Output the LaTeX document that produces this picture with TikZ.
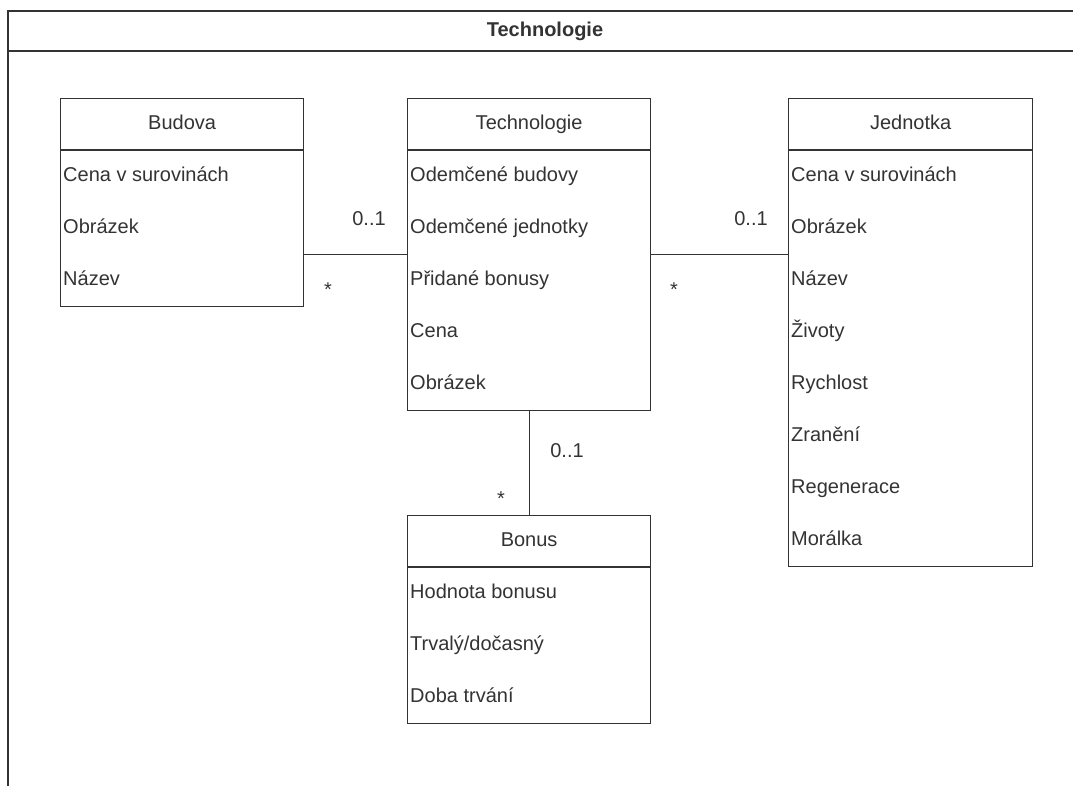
\documentclass[tikz,border=0pt]{standalone}
\usepackage{fontspec}
\setmainfont{Liberation Sans}
\usetikzlibrary{calc}
\definecolor{linec}{HTML}{333333}
\definecolor{txtc}{HTML}{333333}
\tikzset{
  cls/.style={draw=linec, line width=1.2pt, fill=white, anchor=north west,
    inner sep=0pt, minimum width=243pt},
  ttl/.style={font=\fontsize{20}{24}\selectfont, text=txtc, inner sep=0pt,
    text height=14.5pt, text depth=4pt},
  attr/.style={ttl, anchor=west},
  mult/.style={ttl},
  sep/.style={draw=linec, line width=1.2pt},
  assoc/.style={draw=linec, line width=1.2pt},
  frame/.style={draw=linec, line width=1.2pt}
}
\begin{document}
\begin{tikzpicture}[x=1pt,y=-1pt]
\useasboundingbox (0,0) rectangle (1073,785);
\clip (0,0) rectangle (1073,785);

% outer package frame with its title bar
\coordinate (fr-tl) at (8,11);
\coordinate (fr-tr) at (1090,11);
\coordinate (fr-bl) at (8,800);
\coordinate (fr-hl) at (8,51);
\coordinate (fr-hr) at (1090,51);
\draw[frame] (fr-tr) -- (fr-tl) -- (fr-bl);
\draw[frame] (fr-hl) -- (fr-hr);
\node[ttl, font=\fontsize{20}{24}\selectfont\bfseries] (frame-title) at (545,31) {Technologie};

% class Budova
\node[cls, minimum height=208pt] (budova) at (60,98) {};
\draw[sep] ($(budova.north west)+(0,52)$) -- ($(budova.north east)+(0,52)$);
\node[ttl] (budova-t) at ($(budova.north)+(0,26)$) {Budova};
\foreach \t [count=\i] in {Cena v surovinách, Obrázek, Název}
  \node[attr] (budova-\i) at ($(budova.north west)+(3,26+52*\i)$) {\t};

% class Technologie
\node[cls, minimum height=312pt] (tech) at (407,98) {};
\draw[sep] ($(tech.north west)+(0,52)$) -- ($(tech.north east)+(0,52)$);
\node[ttl] (tech-t) at ($(tech.north)+(0,26)$) {Technologie};
\foreach \t [count=\i] in {Odemčené budovy, Odemčené jednotky, Přidané bonusy, Cena, Obrázek}
  \node[attr] (tech-\i) at ($(tech.north west)+(3,26+52*\i)$) {\t};

% class Jednotka
\node[cls, minimum height=468pt, minimum width=244pt] (jed) at (788,98) {};
\draw[sep] ($(jed.north west)+(0,52)$) -- ($(jed.north east)+(0,52)$);
\node[ttl] (jed-t) at ($(jed.north)+(0,26)$) {Jednotka};
\foreach \t [count=\i] in {Cena v surovinách, Obrázek, Název, Životy, Rychlost, Zranění, Regenerace, Morálka}
  \node[attr] (jed-\i) at ($(jed.north west)+(3,26+52*\i)$) {\t};

% class Bonus
\node[cls, minimum height=208pt] (bonus) at (407,515) {};
\draw[sep] ($(bonus.north west)+(0,52)$) -- ($(bonus.north east)+(0,52)$);
\node[ttl] (bonus-t) at ($(bonus.north)+(0,26)$) {Bonus};
\foreach \t [count=\i] in {Hodnota bonusu, Trvalý/dočasný, Doba trvání}
  \node[attr] (bonus-\i) at ($(bonus.north west)+(3,26+52*\i)$) {\t};

% associations
\draw[assoc] (tech.west) -- (tech.west -| budova.east);
\draw[assoc] (tech.east) -- (tech.east -| jed.west);
\draw[assoc] (tech.south) -- (bonus.north);

% multiplicities
\node[mult] (m1a) at (369,220) {0..1};
\node[mult] (m1b) at (328,291) {*};
\node[mult] (m2a) at (751,220) {0..1};
\node[mult] (m2b) at (674,291) {*};
\node[mult] (m3a) at (567,452) {0..1};
\node[mult] (m3b) at (501,500) {*};
\end{tikzpicture}
\end{document}
